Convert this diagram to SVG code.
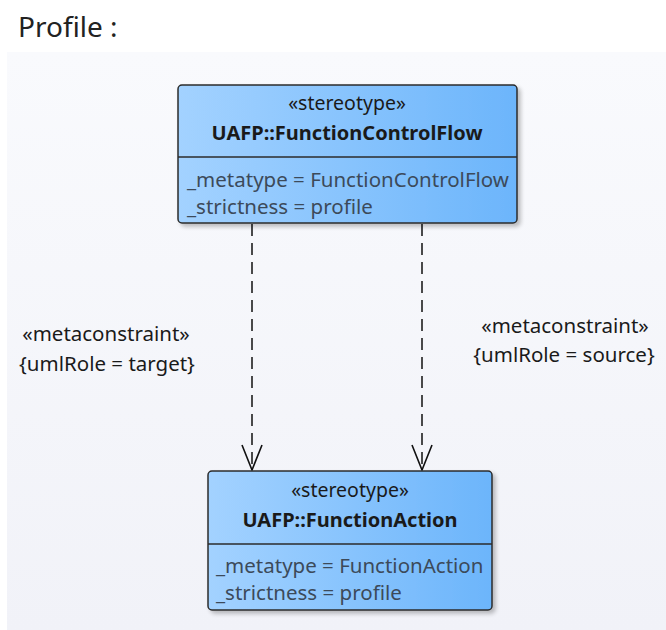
<svg xmlns="http://www.w3.org/2000/svg" width="666" height="630" viewBox="0 0 666 630">
<defs>
<linearGradient id="bg" x1="0" y1="0" x2="0" y2="1">
<stop offset="0" stop-color="#f9fafd"/>
<stop offset="1" stop-color="#f1f2f8"/>
</linearGradient>
<linearGradient id="fill" x1="0" y1="0" x2="1" y2="0">
<stop offset="0" stop-color="#a3d2ff"/>
<stop offset="1" stop-color="#6cb5fb"/>
</linearGradient>
<filter id="sh" x="-10%" y="-10%" width="120%" height="130%">
<feGaussianBlur in="SourceAlpha" stdDeviation="2"/>
<feOffset dx="3" dy="3"/>
<feComponentTransfer><feFuncA type="linear" slope="0.25"/></feComponentTransfer>
<feMerge><feMergeNode/><feMergeNode in="SourceGraphic"/></feMerge>
</filter>
<marker id="open" viewBox="0 0 28 22" refX="26" refY="11" markerWidth="28" markerHeight="22" markerUnits="userSpaceOnUse" orient="auto">
<path d="M1 1 L26 11 L1 21" fill="none" stroke="#111" stroke-width="1.6"/>
</marker>
</defs>
<style>
text{font-family:"Noto Sans","Open Sans","DejaVu Sans",sans-serif;fill:#1a1a1a}
.box{fill:url(#fill);stroke:#2b2b2b;stroke-width:1.5}
.div{stroke:#2b2b2b;stroke-width:1.5}
.st{font-size:19.5px;text-anchor:middle}
.nm{font-size:20px;font-weight:bold;text-anchor:middle}
.at{font-size:20.5px;fill:#3c4a5a}
.lb{font-size:20.5px;text-anchor:middle}
.dep{stroke:#111;stroke-width:1.5;stroke-dasharray:12,7;fill:none}
</style>
<rect width="666" height="630" fill="#ffffff"/>
<rect x="7" y="52" width="659" height="578" fill="url(#bg)"/>
<text x="18" y="37" style="font-size:28px;fill:#222">Profile :</text>
<g id="connectors">
<line class="dep" x1="252" y1="224" x2="252" y2="470" marker-end="url(#open)"/>
<line class="dep" x1="422" y1="224" x2="422" y2="470" marker-end="url(#open)"/>
<text class="lb" x="106" y="341">«metaconstraint»</text>
<text class="lb" x="107" y="371">{umlRole = target}</text>
<text class="lb" x="565" y="333">«metaconstraint»</text>
<text class="lb" x="564" y="362">{umlRole = source}</text>
</g>
<g id="FunctionControlFlow">
<rect class="box" x="178" y="85" width="339" height="138" rx="4" filter="url(#sh)"/>
<line class="div" x1="178" y1="157" x2="517" y2="157"/>
<text class="st" x="347" y="110">«stereotype»</text>
<text class="nm" x="347" y="140">UAFP::FunctionControlFlow</text>
<text class="at" x="187" y="187">_metatype = FunctionControlFlow</text>
<text class="at" x="187" y="214">_strictness = profile</text>
</g>
<g id="FunctionAction">
<rect class="box" x="208" y="471" width="284" height="139" rx="4" filter="url(#sh)"/>
<line class="div" x1="208" y1="544" x2="492" y2="544"/>
<text class="st" x="350" y="497">«stereotype»</text>
<text class="nm" x="350" y="527">UAFP::FunctionAction</text>
<text class="at" x="216" y="573">_metatype = FunctionAction</text>
<text class="at" x="216" y="600">_strictness = profile</text>
</g>
</svg>
